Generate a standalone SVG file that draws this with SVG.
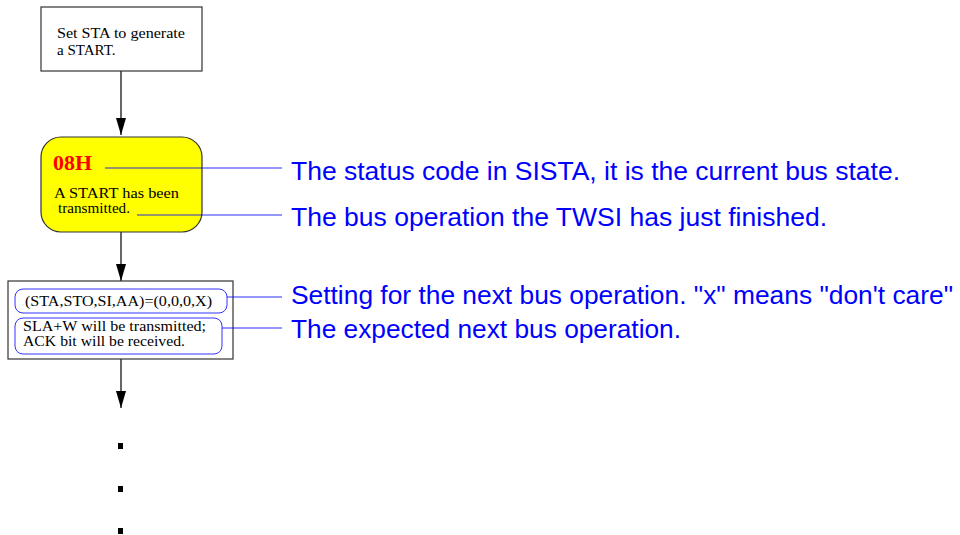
<svg xmlns="http://www.w3.org/2000/svg" width="960" height="535" viewBox="0 0 960 535">
<defs>
<marker id="ah" markerWidth="17" markerHeight="10" refX="17" refY="5" orient="auto" markerUnits="userSpaceOnUse" viewBox="0 0 17 10">
<path d="M0,0 L17,5 L0,10 Z" fill="#000"/>
</marker>
<style>
.box{fill:#fff;stroke:#333;stroke-width:1.2}
.serif{font-family:"Liberation Serif","Times New Roman",serif;font-size:15px;fill:#000}
.note{font-family:"Liberation Sans",Arial,sans-serif;font-size:26px;fill:#0000ff}
.lead{stroke:#0000ff;stroke-opacity:0.55;stroke-width:1.5;fill:none}
.inner{fill:none;stroke:#3333ff;stroke-width:1}
.flow{stroke:#000;stroke-width:1.2;fill:none}
</style>
</defs>
<rect width="960" height="535" fill="#fff"/>

<g id="connectors">
<line class="flow" x1="121" y1="71" x2="121" y2="135" marker-end="url(#ah)"/>
<line class="flow" x1="121" y1="232" x2="121" y2="281" marker-end="url(#ah)"/>
<line class="flow" x1="121" y1="359" x2="121" y2="408" marker-end="url(#ah)"/>
</g>

<g id="start">
<rect class="box" x="41" y="7" width="161" height="64"/>
<text class="serif" x="57" y="37.5" textLength="128" lengthAdjust="spacingAndGlyphs">Set STA to generate</text>
<text class="serif" x="57" y="55">a START.</text>
</g>

<g id="state08">
<rect x="41" y="137" width="161" height="95" rx="20" ry="20" fill="#ffff00" stroke="#333" stroke-width="1.2"/>
<text x="53" y="170" font-family="'Liberation Serif','Times New Roman',serif" font-size="21" font-weight="bold" fill="#ff0000" textLength="39" lengthAdjust="spacingAndGlyphs">08H</text>
<text class="serif" x="54" y="198" textLength="125" lengthAdjust="spacingAndGlyphs">A START has been</text>
<text class="serif" x="58" y="213" textLength="72" lengthAdjust="spacingAndGlyphs">transmitted.</text>
</g>

<g id="action">
<rect class="box" x="8" y="281" width="225" height="78"/>
<rect class="inner" x="15" y="289" width="212" height="24" rx="8" ry="8"/>
<text class="serif" x="25" y="306" textLength="187" lengthAdjust="spacingAndGlyphs">(STA,STO,SI,AA)=(0,0,0,X)</text>
<rect class="inner" x="15" y="318" width="207" height="36" rx="8" ry="8"/>
<text class="serif" x="23" y="331" textLength="183" lengthAdjust="spacingAndGlyphs">SLA+W will be transmitted;</text>
<text class="serif" x="23" y="346" textLength="162" lengthAdjust="spacingAndGlyphs">ACK bit will be received.</text>
</g>

<g id="dots" fill="#000">
<rect x="118" y="443" width="5" height="6"/>
<rect x="118" y="486" width="5" height="6"/>
<rect x="118" y="528" width="5" height="6"/>
</g>

<g id="leaders">
<line class="lead" x1="105" y1="168" x2="282" y2="168"/>
<line class="lead" x1="137" y1="215" x2="282" y2="215"/>
<line class="lead" x1="227" y1="297" x2="282" y2="297"/>
<line class="lead" x1="222" y1="328" x2="282" y2="328"/>
</g>

<g id="annotations">
<text class="note" x="291" y="180" textLength="609" lengthAdjust="spacingAndGlyphs">The status code in SISTA, it is the current bus state.</text>
<text class="note" x="291" y="226" textLength="536" lengthAdjust="spacingAndGlyphs">The bus operation the TWSI has just finished.</text>
<text class="note" x="291" y="304" textLength="662" lengthAdjust="spacingAndGlyphs">Setting for the next bus operation. "x" means "don't care"</text>
<text class="note" x="291" y="338" textLength="390" lengthAdjust="spacingAndGlyphs">The expected next bus operation.</text>
</g>
</svg>
